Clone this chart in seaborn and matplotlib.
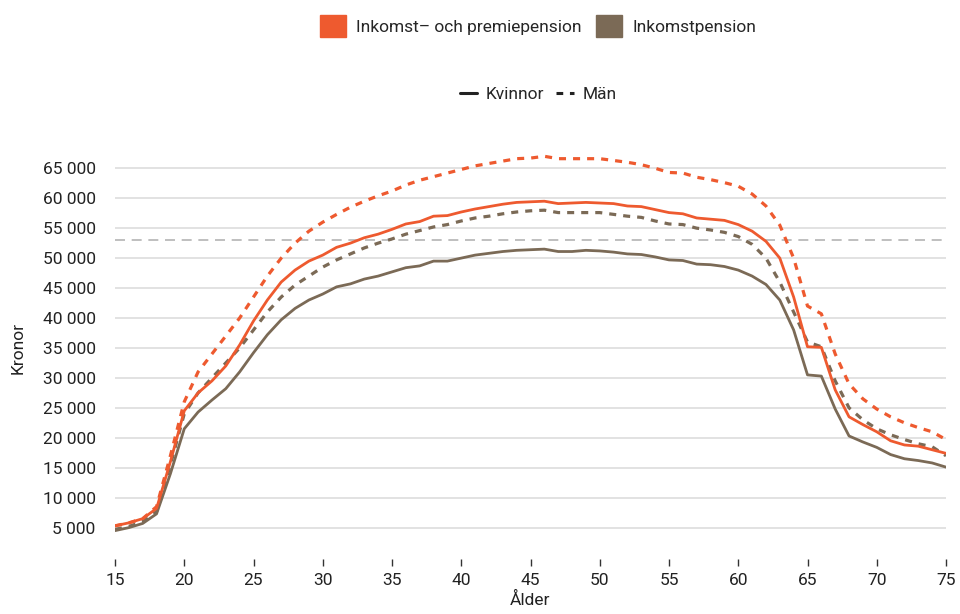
import matplotlib
matplotlib.use("Agg")
import matplotlib.pyplot as plt
import matplotlib.ticker as mticker
from matplotlib.patches import Patch
from matplotlib.lines import Line2D
import pandas as pd
import seaborn as sns

sns.set_style("white")
plt.rcParams['font.family'] = ['Roboto', 'DejaVu Sans']

## data
ages = list(range(15, 76))

kvinnor_ink_prem = [5300, 5800, 6500, 8200, 16000, 24500, 27500, 29500, 32000, 35500,
                    39500, 43000, 46000, 48000, 49500, 50500, 51800, 52500, 53400, 54000,
                    54800, 55700, 56100, 57000, 57100, 57700, 58200, 58600, 59000, 59300,
                    59400, 59500, 59100, 59200, 59300, 59200, 59100, 58700, 58600, 58100,
                    57600, 57400, 56700, 56500, 56300, 55600, 54500, 52800, 50000, 43500,
                    35200, 35100, 28000, 23500, 22200, 21000, 19500, 18800, 18600, 18000,
                    17400]
kvinnor_ink = [4500, 5000, 5700, 7300, 14000, 21500, 24300, 26300, 28200, 31000,
               34200, 37200, 39700, 41600, 43000, 44000, 45200, 45700, 46500, 47000,
               47700, 48400, 48700, 49500, 49500, 50000, 50500, 50800, 51100, 51300,
               51400, 51500, 51100, 51100, 51300, 51200, 51000, 50700, 50600, 50200,
               49700, 49600, 49000, 48900, 48600, 48000, 47000, 45600, 43000, 38000,
               30500, 30300, 24800, 20300, 19300, 18400, 17200, 16500, 16200, 15800,
               15100]
man_ink_prem = [5300, 5800, 6500, 8500, 17000, 26000, 31000, 34000, 37000, 40000,
                43500, 47000, 50000, 52500, 54500, 56000, 57300, 58500, 59500, 60400,
                61200, 62200, 63000, 63600, 64200, 64800, 65400, 65800, 66200, 66600,
                66700, 67000, 66600, 66600, 66600, 66600, 66300, 66000, 65600, 65000,
                64300, 64200, 63500, 63100, 62600, 62000, 60700, 58700, 55500, 50000,
                42000, 40700, 34000, 29000, 26500, 24800, 23500, 22500, 21700, 21000,
                19700]
man_ink = [4700, 5200, 6000, 7700, 15500, 24000, 27500, 30000, 32500, 35000,
           38000, 41000, 43500, 45500, 47000, 48500, 49700, 50700, 51700, 52500,
           53200, 54000, 54600, 55200, 55600, 56200, 56700, 57000, 57400, 57700,
           57900, 58000, 57600, 57600, 57600, 57600, 57300, 57000, 56800, 56200,
           55700, 55600, 55000, 54700, 54300, 53600, 52300, 50000, 46000, 41000,
           36000, 35200, 29500, 25000, 23000, 21500, 20500, 19700, 19000, 18500,
           17000]
referens = 53000

orange = "#EE5A2F"
brown = "#7B6A56"

df = pd.DataFrame({"Ålder": ages,
                   "kv_ip": kvinnor_ink_prem, "kv_i": kvinnor_ink,
                   "m_ip": man_ink_prem, "m_i": man_ink})

fig = plt.figure(figsize=(9.6, 6.14), dpi=100)
ax = fig.add_axes([115/960, 69/614, 831/960, 395/614])

ax.axhline(referens, color="#b4b4b4", lw=1.2, ls=(0, (6, 4)), zorder=1)

sns.lineplot(data=df, x="Ålder", y="m_i", ax=ax, color=brown, lw=2.3, ls=(0, (2.2, 2.2)))
sns.lineplot(data=df, x="Ålder", y="m_ip", ax=ax, color=orange, lw=2.3, ls=(0, (2.2, 2.2)))
sns.lineplot(data=df, x="Ålder", y="kv_i", ax=ax, color=brown, lw=2)
sns.lineplot(data=df, x="Ålder", y="kv_ip", ax=ax, color=orange, lw=2)

ax.set_xlim(15, 75)
ax.set_ylim(2100, 68050)
ax.set_xticks(range(15, 76, 5))
ax.set_yticks(range(5000, 65001, 5000))
ax.yaxis.set_major_formatter(mticker.FuncFormatter(lambda v, p: f"{int(v):,}".replace(",", " ")))
ax.grid(axis="y", color="#e2e2e2", lw=1.4)
ax.set_axisbelow(True)
for s in ax.spines.values():
    s.set_visible(False)
ax.spines['bottom'].set_position(('outward', 10))
ax.tick_params(axis="x", bottom=True, direction="out", length=5, width=1, color="#333333",
               labelsize=12.5, pad=5, labelcolor="#222222")
ax.tick_params(axis="y", left=False, length=0, labelsize=12.5, pad=14, labelcolor="#222222")
ax.set_xlabel("Ålder", fontsize=12.5, color="#222222", labelpad=3)
ax.set_ylabel("Kronor", fontsize=12.5, color="#222222", labelpad=12)

h1 = [Patch(color=orange, label="Inkomst– och premiepension"),
      Patch(color=brown, label="Inkomstpension")]
fig.legend(handles=h1, loc="center", bbox_to_anchor=(538/960, 1 - 26/614), ncol=2,
           frameon=False, fontsize=12.5, handlelength=1.5, handleheight=1.5,
           handletextpad=0.6, columnspacing=0.8)
h2 = [Line2D([], [], color="#222222", lw=2.2, label="Kvinnor"),
      Line2D([], [], color="#222222", lw=2.2, ls=(0, (2.2, 2.2)), label="Män")]
fig.legend(handles=h2, loc="center", bbox_to_anchor=(538/960, 1 - 94/614), ncol=2,
           frameon=False, fontsize=12.5, handlelength=1.0,
           handletextpad=0.5, columnspacing=0.7)

fig.savefig("out.png", dpi=100)
